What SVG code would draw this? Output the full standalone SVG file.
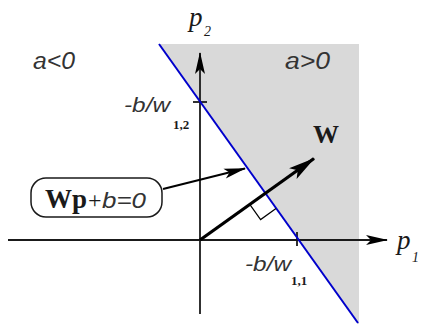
<svg xmlns="http://www.w3.org/2000/svg" width="422" height="324" viewBox="0 0 422 324">
<style>
.ax{stroke:#1a1a1a;stroke-width:1.8;fill:none}
.lbl{font-family:"Liberation Sans",Arial,sans-serif;font-style:italic;fill:#333}
.ser{font-family:"Liberation Serif","Times New Roman",serif;fill:#1a1a1a}
.sub{font-family:"Liberation Serif","Times New Roman",serif;font-weight:bold;font-size:13px;fill:#1a1a1a}
</style>
<defs>
<marker id="ah" markerUnits="userSpaceOnUse" markerWidth="24" markerHeight="12" refX="0" refY="0" orient="auto" overflow="visible">
<path d="M1,0 L-21,-5 L-16,0 L-21,5 z" fill="#000"/>
</marker>
<marker id="ahw" markerUnits="userSpaceOnUse" markerWidth="28" markerHeight="14" refX="0" refY="0" orient="auto" overflow="visible">
<path d="M1,0 L-26,-6.5 L-20,0 L-26,6.5 z" fill="#000"/>
</marker>
</defs>
<rect width="422" height="324" fill="#fff"/>
<g id="halfplane">
<polygon points="159,44 359,44 359,324 358,324" fill="#d9d9d9"/>
</g>
<g id="axes">
<line class="ax" x1="8" y1="240" x2="387" y2="240" marker-end="url(#ah)"/>
<line class="ax" x1="200" y1="314" x2="200" y2="53" marker-end="url(#ah)"/>
<line class="ax" x1="193" y1="102" x2="207" y2="102"/>
<line class="ax" x1="297" y1="232" x2="297" y2="246"/>
</g>
<g id="boundary">
<line x1="159" y1="44" x2="358" y2="323" stroke="#0000cc" stroke-width="2"/>
</g>
<g id="weight-vector">
<line x1="200" y1="240" x2="314" y2="158.5" stroke="#000" stroke-width="3.2" marker-end="url(#ahw)"/>
<polyline points="249.6,204.1 260.6,219.6 276,208.5" fill="none" stroke="#000" stroke-width="1.2"/>
<text class="ser" x="313" y="143" font-size="26" font-weight="bold">W</text>
</g>
<g id="labels">
<text class="ser" x="189" y="26" font-size="27" font-style="italic">p</text>
<text class="ser" x="204" y="36" font-size="14" font-style="italic">2</text>
<text class="ser" x="397" y="249" font-size="27" font-style="italic">p</text>
<text class="ser" x="412" y="262" font-size="14" font-style="italic">1</text>
<text class="lbl" x="33" y="69" font-size="23" textLength="42" lengthAdjust="spacingAndGlyphs">a&lt;0</text>
<text class="lbl" x="285" y="69" font-size="23" textLength="45" lengthAdjust="spacingAndGlyphs">a&gt;0</text>
<text class="lbl" x="124" y="112" font-size="21" textLength="46" lengthAdjust="spacingAndGlyphs">-b/w</text>
<text class="sub" x="173" y="129">1,2</text>
<text class="lbl" x="245" y="271" font-size="21" textLength="46" lengthAdjust="spacingAndGlyphs">-b/w</text>
<text class="sub" x="291" y="285">1,1</text>
</g>
<g id="equation-box">
<rect x="31" y="178" width="131" height="39" rx="15" fill="#fff" stroke="#1a1a1a" stroke-width="1.5"/>
<text x="45" y="208"><tspan class="ser" font-size="27" font-weight="bold">Wp</tspan><tspan class="ser" x="88" font-size="24">+</tspan><tspan class="lbl" x="102" font-size="22" textLength="44" lengthAdjust="spacingAndGlyphs">b=0</tspan></text>
</g>
<g id="connectors">
<line x1="163" y1="189" x2="245" y2="168.5" stroke="#000" stroke-width="2" marker-end="url(#ah)"/>
</g>
</svg>
